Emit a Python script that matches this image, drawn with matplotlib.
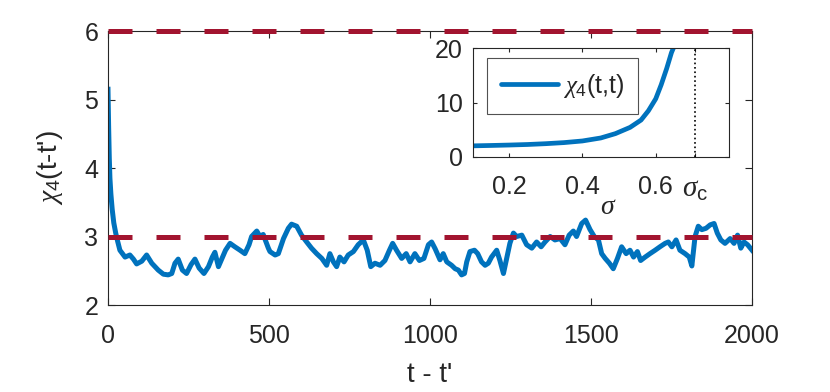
import matplotlib
matplotlib.use("Agg")
import matplotlib.pyplot as plt

plt.rcParams["font.family"] = ["Liberation Sans", "DejaVu Sans"]
plt.rcParams["mathtext.fontset"] = "custom"
plt.rcParams["mathtext.rm"] = "Liberation Sans"
plt.rcParams["mathtext.it"] = "Liberation Serif:italic"

BLUE = "#0072BD"
RED = "#A2142F"
GREY = "#262626"

# main trace chi_4(t - t')
t_lag = [0, 2, 4, 6, 9, 13, 18, 24, 30, 37, 53, 68, 79, 89, 105, 120, 136, 146,
         156, 172, 187, 198, 208, 218, 231, 244, 258, 270, 283, 298, 312, 324,
         332, 343, 353, 365, 379, 394, 410, 425, 438, 446, 462, 472, 482, 498,
         503, 519, 529, 545, 560, 570, 586, 601, 617, 632, 648, 664, 679, 689,
         700, 710, 720, 733, 746, 762, 777, 793, 805, 816, 829, 845, 860, 874,
         884, 896, 912, 926, 938, 953, 967, 981, 995, 1005, 1016, 1031, 1041,
         1052, 1067, 1078, 1088, 1098, 1107, 1114, 1124, 1138, 1148, 1160, 1171,
         1181, 1191, 1207, 1217, 1228, 1238, 1248, 1259, 1269, 1285, 1300, 1316,
         1331, 1345, 1357, 1373, 1388, 1404, 1419, 1432, 1445, 1455, 1471, 1483,
         1497, 1510, 1523, 1533, 1544, 1557, 1569, 1582, 1595, 1609, 1621, 1632,
         1644, 1654, 1668, 1683, 1699, 1714, 1730, 1740, 1751, 1764, 1776, 1792,
         1805, 1813, 1823, 1833, 1844, 1857, 1870, 1882, 1892, 1903, 1916, 1932,
         1944, 1955, 1965, 1975, 1986, 2000]
chi4 = [5.15, 4.60, 4.15, 3.85, 3.62, 3.40, 3.20, 3.05, 2.93, 2.80, 2.70, 2.73,
        2.67, 2.60, 2.64, 2.73, 2.61, 2.56, 2.51, 2.45, 2.44, 2.46, 2.61, 2.67,
        2.51, 2.46, 2.59, 2.67, 2.54, 2.46, 2.56, 2.70, 2.77, 2.56, 2.67, 2.80,
        2.90, 2.85, 2.80, 2.75, 2.88, 3.00, 3.08, 3.00, 3.03, 2.83, 2.78, 2.73,
        2.75, 2.97, 3.12, 3.18, 3.15, 3.02, 2.92, 2.83, 2.75, 2.68, 2.58, 2.75,
        2.63, 2.56, 2.70, 2.63, 2.73, 2.78, 2.88, 2.95, 2.80, 2.56, 2.61, 2.58,
        2.65, 2.80, 2.90, 2.80, 2.68, 2.75, 2.63, 2.75, 2.65, 2.68, 2.88, 2.92,
        2.82, 2.66, 2.75, 2.63, 2.58, 2.53, 2.51, 2.44, 2.46, 2.63, 2.78, 2.80,
        2.75, 2.63, 2.58, 2.61, 2.70, 2.80, 2.65, 2.46, 2.68, 2.90, 3.05, 3.00,
        3.02, 2.88, 2.83, 2.92, 2.85, 2.92, 3.00, 2.95, 2.97, 2.88, 3.02, 3.08,
        3.00, 3.19, 3.24, 3.10, 3.00, 2.95, 2.75, 2.68, 2.61, 2.53, 2.68, 2.85,
        2.75, 2.80, 2.70, 2.78, 2.65, 2.70, 2.75, 2.80, 2.85, 2.90, 2.92, 2.85,
        2.95, 2.80, 2.75, 2.70, 2.57, 3.00, 3.15, 3.10, 3.12, 3.17, 3.19, 3.05,
        2.95, 2.90, 2.97, 2.90, 3.02, 2.83, 2.92, 2.88, 2.80]
ref_levels = [3, 6]

# inset: chi_4(t,t) vs sigma
sigma = [0.10, 0.15, 0.20, 0.25, 0.30, 0.35, 0.40, 0.45, 0.49, 0.53, 0.56,
         0.58, 0.60, 0.615, 0.63, 0.643, 0.648]
chi4_tt = [2.05, 2.12, 2.20, 2.30, 2.45, 2.65, 2.95, 3.50, 4.30, 5.45, 6.80,
           8.50, 10.7, 13.3, 16.3, 19.2, 20.0]
sigma_c = 0.707

fig = plt.figure(figsize=(8.3, 3.92), dpi=100)
ax = fig.add_axes([0.1301, 0.2219, 0.776, 0.699])

for lev in ref_levels:
    ax.axhline(lev, color=RED, lw=3.6, ls=(0, (4.8, 4.8)), clip_on=False, zorder=3)
ax.plot(t_lag, chi4, color=BLUE, lw=3.6, solid_joinstyle="round", zorder=2)

ax.set_xlim(0, 2000)
ax.set_ylim(2, 6)
ax.set_xticks([0, 500, 1000, 1500, 2000])
ax.set_yticks([2, 3, 4, 5, 6])
ax.tick_params(direction="in", top=True, right=True, length=5, width=0.8,
               colors=GREY, labelsize=18)
ax.tick_params(axis="x", pad=14)
ax.tick_params(axis="y", pad=7)
for s in ax.spines.values():
    s.set_color(GREY)
    s.set_linewidth(0.8)
ax.set_xlabel("t - t'", fontsize=20, color=GREY, labelpad=10)
ax.set_ylabel(r"$\chi_{\mathrm{4}}$(t-t')", fontsize=20, color=GREY, labelpad=14)

ins = fig.add_axes([0.5693, 0.5995, 0.309, 0.2773])
ins.plot(sigma, chi4_tt, color=BLUE, lw=3.4, solid_capstyle="round",
         label=r"$\chi_{\mathrm{4}}$(t,t)")
ins.axvline(sigma_c, color="black", lw=1.2, ls=":")
ins.set_xlim(0.1, 0.8)
ins.set_ylim(0, 20)
ins.set_xticks([0.2, 0.4, 0.6, sigma_c])
ins.set_xticklabels(["0.2", "0.4", "0.6", r"$\sigma_{\mathrm{c}}$"])
ins.get_xticklabels()[-1].set_fontsize(21)
ins.set_yticks([0, 10, 20])
ins.tick_params(direction="in", top=True, right=True, length=3, width=0.8,
                colors=GREY, labelsize=18)
ins.tick_params(axis="x", pad=13)
ins.tick_params(axis="y", pad=7)
ins.get_xticklabels()[-1].set_fontsize(21)
for s in ins.spines.values():
    s.set_color(GREY)
    s.set_linewidth(0.8)
ins.set_xlabel(r"$\sigma$", fontsize=20, color=GREY)
ins.xaxis.set_label_coords(0.53, -0.34)
leg = ins.legend(loc="upper left", bbox_to_anchor=(0.0565, 0.908), borderaxespad=0,
                 fontsize=18, frameon=True, fancybox=False, handlelength=2.3,
                 borderpad=0.55, handletextpad=0.2)
leg.get_frame().set_edgecolor(GREY)
leg.get_frame().set_linewidth(0.8)
for txt in leg.get_texts():
    txt.set_color(GREY)

fig.savefig("out.png", dpi=100)
